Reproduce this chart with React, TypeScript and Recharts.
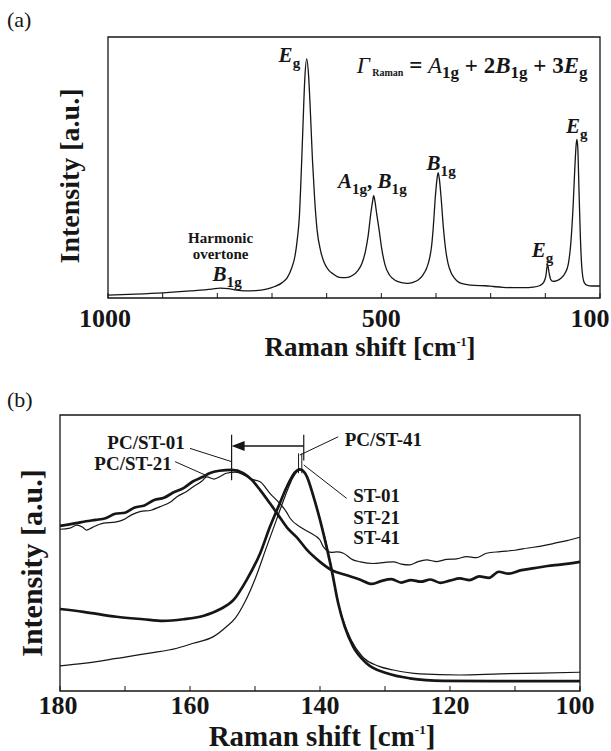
import React from "react"
import {
  LineChart,
  Line,
  XAxis,
  YAxis,
  ReferenceArea,
  ReferenceLine,
  ReferenceDot,
} from "recharts"

const SERIF = "'Liberation Serif', 'Times New Roman', Times, serif"
const INK = "#161616"

// (a) full spectrum: [Raman shift, intensity]
const spectrum: [number, number][] = [
  [1000, 1.1], [950, 1.5], [900, 2.0], [850, 2.7], [810, 3.4], [795, 3.8], [780, 3.6],
  [765, 3.0], [750, 2.7], [730, 2.8], [710, 3.4], [695, 4.4], [682, 5.8], [672, 7.8],
  [664, 11.5], [658, 16], [654, 22], [650, 31], [646.5, 48], [643, 68], [640, 84],
  [636.5, 91.6], [633, 85], [629.5, 70], [626, 53], [622, 38], [617.5, 26], [611, 18],
  [604, 13.3], [596, 10.6], [588, 9.2], [577, 7.9], [565, 7.8], [553, 8.6], [543, 10.5],
  [535, 13.5], [529, 18], [524, 24], [519.5, 32], [516, 37], [514, 39.2], [512, 37.5],
  [509, 33], [504, 26], [499, 18.5], [493, 12.5], [485, 8.8], [475, 6.8], [463, 5.9],
  [452, 5.6], [442, 6.0], [432, 7.0], [424, 8.8], [417, 11.5], [412, 15], [408, 20],
  [405, 27], [401.5, 38], [398.5, 45], [396, 48], [393.5, 45], [390.5, 38], [386.5, 27],
  [382, 18], [378, 13.3], [373, 10], [367, 7.8], [358, 6.0], [345, 5.2], [330, 4.8],
  [310, 4.7], [295, 4.4], [278, 4.1], [260, 4.0], [240, 4.0], [222, 4.2], [210, 4.8],
  [203, 6.0], [199, 8.5], [196, 12.9], [193, 9.5], [190, 7.0], [186, 6.4], [180, 6.6],
  [172, 7.5], [164, 9.5], [158, 13], [153, 22], [149, 36], [146, 50], [143.5, 59],
  [142, 60.8], [140.5, 57], [138.5, 42], [136, 24], [133, 11], [129, 6], [123, 4.8],
  [115, 4.6], [100, 4.6],
]

// (b) low-frequency Eg band
const pcSt01: [number, number][] = [
  [180, 59.8], [177.5, 60.8], [176, 61.5], [174.5, 62.0], [173, 62.6], [171.5, 64.2],
  [170, 64.6], [168.5, 66.5], [167, 67.2], [165.5, 69.2], [164, 70.0], [162.5, 72.0],
  [161, 73.5], [159.5, 76.0], [158, 77.6], [157, 78.9], [155.5, 79.8], [153.6, 80.1],
  [151.8, 78.9], [150.5, 76.5], [149.2, 72.8], [147.7, 68], [146.5, 64], [145, 59],
  [143.5, 55.5], [142, 51.1], [140, 46.8], [138.2, 43.8], [136, 42], [134, 40.5],
  [132, 38.8], [130.5, 39.9], [129, 40.5], [127.5, 39.3], [126, 40.2], [124.5, 39.6],
  [123, 40.4], [121.5, 39.2], [120, 40.0], [118.5, 40.8], [117, 40.2], [115.5, 41.5],
  [114, 41.0], [112.5, 43.2], [111, 42.5], [109, 43.8], [107, 44.5], [105, 45.3],
  [103, 45.8], [100, 46.8],
]

const pcSt21: [number, number][] = [
  [180, 58.6], [178.5, 59.0], [177.4, 60.1], [176.5, 59.3], [175.9, 58.3], [175, 59.3],
  [173.3, 60.8], [171.5, 61.2], [170.3, 62.0], [169, 63.8], [167.7, 65.0], [166, 65.5],
  [164.6, 66.8], [163, 68.5], [162, 70.4], [160.5, 72.3], [159.5, 74.0], [158.2, 76.0],
  [157.4, 77.6], [156.3, 76.8], [155.3, 77.8], [154.4, 78.9], [153, 79.3], [151.5, 78.0],
  [150.3, 76.6], [149.2, 75.8], [147.7, 71.6], [146.2, 68], [145.2, 65], [144.6, 62.6],
  [143.1, 59.5], [141.5, 57.3], [140, 54.7], [139.5, 52.3], [138.2, 50.2], [137.4, 50.4],
  [136.4, 49.9], [135, 47.6], [133.8, 46.8], [131.8, 46.2], [130, 46.6], [128.7, 46.8],
  [127.5, 46.0], [126.2, 45.7], [125, 46.8], [123.6, 47.5], [122, 46.9], [120.5, 47.7],
  [119, 47.9], [117.4, 48.7], [116, 48.3], [114.4, 49.9], [112.3, 50.5], [110, 51],
  [108, 51.8], [106, 52.5], [104, 53.5], [102, 54.5], [100, 55.7],
]

const st01: [number, number][] = [
  [180, 29.7], [176.4, 28.7], [171.3, 26.9], [167.2, 26.0], [164.1, 25.4], [161, 26.0],
  [158, 27.2], [155.4, 29.6], [153.3, 33], [151.3, 40.2], [149.2, 49.9], [147.7, 59.5],
  [146.4, 66.8], [145.1, 74], [143.8, 79.4], [143.1, 80.3], [142, 77.6], [141, 70.4],
  [140, 62], [139, 52.3], [138.2, 43.8], [137.2, 31.8], [136.2, 23.3], [134.9, 16.1],
  [132.8, 10], [129.7, 6.4], [126.2, 4.6], [121, 3.7], [113.3, 3.6], [100, 3.6],
]

const st21: [number, number][] = [
  [180, 9.1], [176.4, 10], [171.3, 11.8], [166.2, 13.7], [162, 15.5], [159.5, 17.3],
  [156.4, 19.7], [154.4, 23.3], [153, 26.5], [151.5, 32.5], [150, 40.5], [148.2, 52.3],
  [146.7, 62], [145.4, 70.4], [144.1, 77.6], [143.1, 80.1], [142.2, 78.5], [141.2, 72],
  [140.2, 64], [139.2, 55], [138.4, 46.5], [137.5, 35], [136.5, 26], [135.2, 18.5],
  [133.5, 12.5], [131, 9.0], [128.7, 7.6], [124.6, 6.2], [118.5, 5.8], [112.3, 6.2],
  [106, 6.5], [100, 6.8],
]

const ticksA = [1000, 900, 800, 700, 600, 500, 400, 300, 200, 100]
const labelsA = [1000, 500, 100]
const ticksB = [180, 170, 160, 150, 140, 130, 120, 110, 100]
const labelsB = [180, 160, 140, 120, 100]

const toPoints = (rows: [number, number][]) => rows.map(([v, i]) => ({ v, i }))

function makeTick(labels: number[], inward: number, labelDy: number, size: number, shift: Record<number, number> = {}) {
  // eslint-disable-next-line @typescript-eslint/no-explicit-any
  return (props: any) => {
    const { x, y, payload } = props
    const show = labels.includes(payload.value)
    return (
      <g>
        <line x1={x} x2={x} y1={y} y2={y + inward} stroke={INK} strokeWidth={1} />
        {show && (
          <text
            x={x + (shift[payload.value] || 0)}
            y={y + labelDy}
            textAnchor="middle"
            fontFamily={SERIF}
            fontWeight="bold"
            fontSize={size}
            fill={INK}
          >
            {payload.value}
          </text>
        )}
      </g>
    )
  }
}

// text placed at a data point; cx/cy come from the chart scales
// eslint-disable-next-line @typescript-eslint/no-explicit-any
const textAt = (children: React.ReactNode, size: number, anchor = "start", weight = "bold") => (p: any) => (
  <text
    x={p.cx}
    y={p.cy}
    textAnchor={anchor}
    fontFamily={SERIF}
    fontWeight={weight}
    fontSize={size}
    fill={INK}
  >
    {children}
  </text>
)

const sym = (main: string, sub: string, size: number, key: string) => [
  <tspan key={key + "m"} fontStyle="italic">{main}</tspan>,
  <tspan key={key + "s"} fontSize={size * 0.72} dy={size * 0.28}>{sub}</tspan>,
]

function PanelTitle({ text, left, top, size, rotate }: { text: string; left: number; top: number; size: number; rotate?: boolean }) {
  return (
    <div
      style={{
        position: "absolute",
        left,
        top,
        transform: `translate(-50%, -50%)${rotate ? " rotate(-90deg)" : ""}`,
        whiteSpace: "nowrap",
        fontFamily: SERIF,
        fontWeight: "bold",
        fontSize: size,
        lineHeight: 1,
        color: INK,
      }}
    >
      {text}
      {!rotate && (
        <>
          {" [cm"}
          <span style={{ fontSize: "0.45em", position: "relative", top: "-0.85em" }}>-1</span>
          {"]"}
        </>
      )}
    </div>
  )
}

function SpectrumChart() {
  const fs = 21
  return (
    <LineChart width={611} height={375} margin={{ top: 35, right: 11, bottom: 37, left: 108 }}>
      <XAxis
        dataKey="v"
        type="number"
        domain={[100, 1000]}
        reversed
        ticks={ticksA}
        interval={0}
        height={40}
        axisLine={false}
        tickLine={false}
        tickSize={0}
        tickMargin={0}
        tick={makeTick(labelsA, -5, 29, 26, { 1000: -3, 100: -10 })}
      />
      <XAxis
        xAxisId="top"
        orientation="top"
        dataKey="v"
        type="number"
        domain={[100, 1000]}
        reversed
        ticks={ticksA}
        interval={0}
        height={2}
        axisLine={false}
        tickLine={false}
        tickSize={0}
        tickMargin={0}
        tick={makeTick([], 5, 0, 0)}
      />
      <YAxis hide type="number" domain={[0, 100]} />
      <Line
        data={toPoints(spectrum)}
        dataKey="i"
        type="monotone"
        stroke={INK}
        strokeWidth={1.3}
        dot={false}
        isAnimationActive={false}
      />
      <ReferenceArea x1={100} x2={1000} y1={0} y2={100} fill="none" stroke={INK} strokeWidth={1.3} ifOverflow="visible" />

      <ReferenceDot x={687.9} y={90.4} r={0} shape={textAt(sym("E", "g", fs, "e1"), fs)} />
      <ReferenceDot
        x={545}
        y={86.2}
        r={0}
        shape={textAt(
          [
            <tspan key="gam" fontStyle="italic" fontWeight="normal">Γ</tspan>,
            <tspan key="ram" fontSize={10} dy={3}>{" Raman"}</tspan>,
            <tspan key="eq" dy={-3}>{" = "}</tspan>,
            <tspan key="a" fontStyle="italic" fontWeight="normal">A</tspan>,
            <tspan key="a1" fontSize={17} dy={5}>1g</tspan>,
            <tspan key="p1" dy={-5}>{" + 2"}</tspan>,
            <tspan key="b" fontStyle="italic">B</tspan>,
            <tspan key="b1" fontSize={17} dy={5}>1g</tspan>,
            <tspan key="p2" dy={-5}>{" + 3"}</tspan>,
            <tspan key="e" fontStyle="italic">E</tspan>,
            <tspan key="eg" fontSize={17} dy={5}>g</tspan>,
          ],
          23,
        )}
      />
      <ReferenceDot
        x={579.3}
        y={42.1}
        r={0}
        shape={textAt(
          [
            ...sym("A", "1g", fs, "a"),
            <tspan key="c" dy={-fs * 0.28}>{", "}</tspan>,
            ...sym("B", "1g", fs, "b"),
          ],
          fs,
        )}
      />
      <ReferenceDot x={417.2} y={49} r={0} shape={textAt(sym("B", "1g", fs, "b2"), fs)} />
      <ReferenceDot x={224.7} y={15.8} r={0} shape={textAt(sym("E", "g", fs, "e2"), fs)} />
      <ReferenceDot x={162} y={63.1} r={0} shape={textAt(sym("E", "g", fs, "e3"), fs)} />
      <ReferenceDot x={794} y={21} r={0} shape={textAt("Harmonic", 15, "middle")} />
      <ReferenceDot x={794} y={14.9} r={0} shape={textAt("overtone", 15, "middle")} />
      <ReferenceDot x={808.7} y={6.5} r={0} shape={textAt(sym("B", "1g", fs, "b3"), fs)} />
    </LineChart>
  )
}

function LowBandChart() {
  const fs = 19
  return (
    <LineChart width={611} height={371} margin={{ top: 33, right: 31, bottom: 20, left: 60 }}>
      <XAxis
        dataKey="v"
        type="number"
        domain={[100, 180]}
        reversed
        ticks={ticksB}
        interval={0}
        height={40}
        axisLine={false}
        tickLine={false}
        tickSize={0}
        tickMargin={0}
        tick={makeTick(labelsB, -5, 23, 26, { 180: -2, 100: -5 })}
      />
      <XAxis
        xAxisId="top"
        orientation="top"
        dataKey="v"
        type="number"
        domain={[100, 180]}
        reversed
        ticks={ticksB}
        interval={0}
        height={2}
        axisLine={false}
        tickLine={false}
        tickSize={0}
        tickMargin={0}
        tick={makeTick([], 5, 0, 0)}
      />
      <YAxis hide type="number" domain={[0, 100]} />
      <Line data={toPoints(pcSt21)} dataKey="i" type="monotone" stroke={INK} strokeWidth={1.2} dot={false} isAnimationActive={false} />
      <Line data={toPoints(st21)} dataKey="i" type="monotone" stroke={INK} strokeWidth={1.2} dot={false} isAnimationActive={false} />
      <Line data={toPoints(pcSt01)} dataKey="i" type="monotone" stroke={INK} strokeWidth={2.7} dot={false} isAnimationActive={false} />
      <Line data={toPoints(st01)} dataKey="i" type="monotone" stroke={INK} strokeWidth={2.7} dot={false} isAnimationActive={false} />
      <ReferenceArea x1={100} x2={180} y1={0} y2={100} fill="none" stroke={INK} strokeWidth={1.3} ifOverflow="visible" />

      {/* peak-shift marker */}
      <ReferenceLine segment={[{ x: 153.6, y: 92.8 }, { x: 153.6, y: 76.4 }]} stroke={INK} strokeWidth={1.2} />
      <ReferenceLine segment={[{ x: 142.5, y: 92.8 }, { x: 142.5, y: 83.5 }]} stroke={INK} strokeWidth={1.2} />
      <ReferenceLine segment={[{ x: 143.3, y: 86.1 }, { x: 143.3, y: 78.9 }]} stroke={INK} strokeWidth={1} />
      <ReferenceLine segment={[{ x: 142.8, y: 86.1 }, { x: 142.8, y: 78.9 }]} stroke={INK} strokeWidth={1} />
      <ReferenceLine segment={[{ x: 142.5, y: 88.8 }, { x: 152, y: 88.8 }]} stroke={INK} strokeWidth={1.5} />
      <ReferenceDot
        x={153.6}
        y={88.8}
        r={0}
        // eslint-disable-next-line @typescript-eslint/no-explicit-any
        shape={(p: any) => (
          <polygon points={`${p.cx},${p.cy} ${p.cx + 13},${p.cy - 5} ${p.cx + 13},${p.cy + 5}`} fill={INK} />
        )}
      />

      {/* leaders */}
      <ReferenceLine segment={[{ x: 160, y: 87.9 }, { x: 153.6, y: 83.1 }]} stroke={INK} strokeWidth={1} />
      <ReferenceLine segment={[{ x: 162.3, y: 83.1 }, { x: 157.7, y: 78.3 }]} stroke={INK} strokeWidth={1} />
      <ReferenceLine segment={[{ x: 137.2, y: 92.1 }, { x: 143.1, y: 85.5 }]} stroke={INK} strokeWidth={1} />
      <ReferenceLine segment={[{ x: 135.9, y: 69.8 }, { x: 142.5, y: 81.9 }]} stroke={INK} strokeWidth={1} />

      <ReferenceDot x={160.8} y={87.7} r={0} shape={textAt("PC/ST-01", fs, "end")} />
      <ReferenceDot x={162.8} y={79.9} r={0} shape={textAt("PC/ST-21", fs, "end")} />
      <ReferenceDot x={136.2} y={88.8} r={0} shape={textAt("PC/ST-41", fs)} />
      <ReferenceDot x={134.9} y={68.5} r={0} shape={textAt("ST-01", fs)} />
      <ReferenceDot x={134.9} y={60.5} r={0} shape={textAt("ST-21", fs)} />
      <ReferenceDot x={134.9} y={53.3} r={0} shape={textAt("ST-41", fs)} />
    </LineChart>
  )
}

export default function App() {
  return (
    <div style={{ position: "absolute", left: 0, top: 0, width: 611, height: 751, background: "#fff" }}>
      <div style={{ position: "absolute", left: 0, top: 0 }}>
        <SpectrumChart />
      </div>
      <div style={{ position: "absolute", left: 0, top: 380 }}>
        <LowBandChart />
      </div>
      <div style={{ position: "absolute", left: 7, top: 9, fontFamily: SERIF, fontSize: 22, lineHeight: 1, color: INK }}>(a)</div>
      <div style={{ position: "absolute", left: 7, top: 389, fontFamily: SERIF, fontSize: 22, lineHeight: 1, color: INK }}>(b)</div>
      <PanelTitle text="Intensity [a.u.]" left={70} top={176} size={28} rotate />
      <PanelTitle text="Raman shift" left={370} top={347} size={27} />
      <PanelTitle text="Intensity [a.u.]" left={32} top={563} size={30} rotate />
      <PanelTitle text="Raman shift" left={322} top={735.5} size={29} />
    </div>
  )
}
